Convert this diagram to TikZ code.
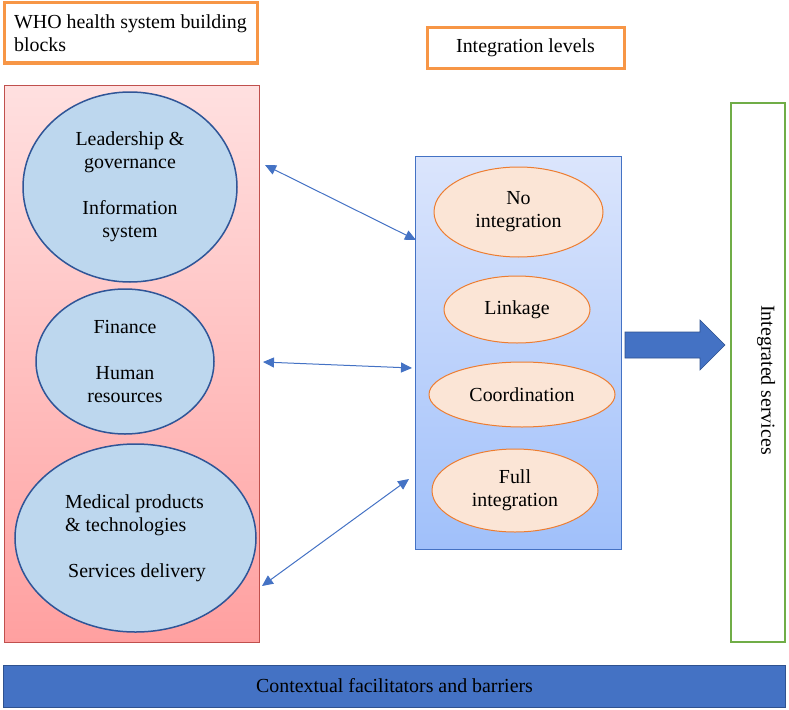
\documentclass[tikz,border=0pt]{standalone}
\usepackage{fontspec}
\setmainfont{Liberation Serif}
\usetikzlibrary{shapes.geometric,arrows.meta}
\definecolor{orangeb}{RGB}{247,150,70}
\definecolor{redb}{RGB}{192,80,77}
\definecolor{redtop}{RGB}{255,224,224}
\definecolor{redbot}{RGB}{255,160,160}
\definecolor{bluebtop}{RGB}{219,229,252}
\definecolor{bluebbot}{RGB}{160,192,250}
\definecolor{blueline}{RGB}{68,114,196}
\definecolor{ellfill}{RGB}{189,215,238}
\definecolor{ellline}{RGB}{47,85,151}
\definecolor{ofill}{RGB}{251,229,214}
\definecolor{oline}{RGB}{237,125,49}
\definecolor{greenb}{RGB}{112,173,71}
\definecolor{barfill}{RGB}{68,114,196}
\definecolor{barline}{RGB}{47,82,143}
\begin{document}
\begin{tikzpicture}[x=1pt,y=-1pt,
 every node/.style={font=\fontsize{19.9}{23}\selectfont, inner sep=0pt},
 titlebox/.style={rectangle, draw=orangeb, line width=3pt, fill=white},
 bigblue/.style={ellipse, draw=ellline, line width=1.5pt, fill=ellfill, align=center},
 lvl/.style={ellipse, draw=oline, line width=1pt, fill=ofill, align=center},
 link/.style={draw=blueline, line width=1pt, >={Triangle[length=11pt,width=10pt]}, <->}
]
\useasboundingbox (0,0) rectangle (789,709);

\node[titlebox, minimum width=253pt, minimum height=60pt, align=left] (who) at (130.5,33) {WHO health system building\\blocks};
\node[titlebox, minimum width=197pt, minimum height=40pt] (lev) at (525.5,48) {Integration levels};

\node[draw=redb, line width=0.8pt, top color=redtop, bottom color=redbot, minimum width=255pt, minimum height=557pt] (wb) at (131.5,363.5) {};

\node[bigblue, minimum width=214pt, minimum height=190pt] (e1) at (130,187) {Leadership \&\\governance\\[23pt]Information\\system};
\node[bigblue, minimum width=178pt, minimum height=145pt] (e2) at (125,361.5) {Finance\\[23pt]Human\\resources};
\node[bigblue, minimum width=241pt, minimum height=188pt, align=left] (e3) at (135.5,538) {Medical products\\\& technologies\\[23pt]\hspace{3pt}Services delivery};

\node[draw=blueline, line width=0.8pt, top color=bluebtop, bottom color=bluebbot, minimum width=206pt, minimum height=393pt] (ib) at (518,352.5) {};

\node[lvl, minimum width=169pt, minimum height=90pt] (l1) at (518.5,212) {No\\integration};
\node[lvl, minimum width=146pt, minimum height=67pt] (l2) at (517,309.5) {Linkage};
\node[lvl, minimum width=186pt, minimum height=65pt] (l3) at (522,394.5) {Coordination};
\node[lvl, minimum width=166pt, minimum height=83pt] (l4) at (515,490.5) {Full\\integration};

\node[draw=greenb, line width=2pt, fill=white, minimum width=54pt, minimum height=539pt] (gb) at (758,372.5) {};
\node[rotate=-90] (gl) at (766,380) {Integrated services};

\node[draw=barline, line width=0.8pt, fill=barfill, minimum width=782pt, minimum height=42pt] (cf) at (394.5,686) {Contextual facilitators and barriers};

\coordinate (a1s) at (265,165);
\coordinate (a1e) at (416,240);
\coordinate (a2s) at (263,362);
\coordinate (a2e) at (412,368);
\coordinate (a3s) at (262,586);
\coordinate (a3e) at (409,479);
\draw[link] (a1s) -- (a1e);
\draw[link] (a2s) -- (a2e);
\draw[link] (a3s) -- (a3e);

\draw[fill=barfill, draw=barline, line width=0.6pt] (625,332) -- (700,332) -- (700,320) -- (725,345) -- (700,370) -- (700,358) -- (625,358) -- cycle;
\end{tikzpicture}
\end{document}
